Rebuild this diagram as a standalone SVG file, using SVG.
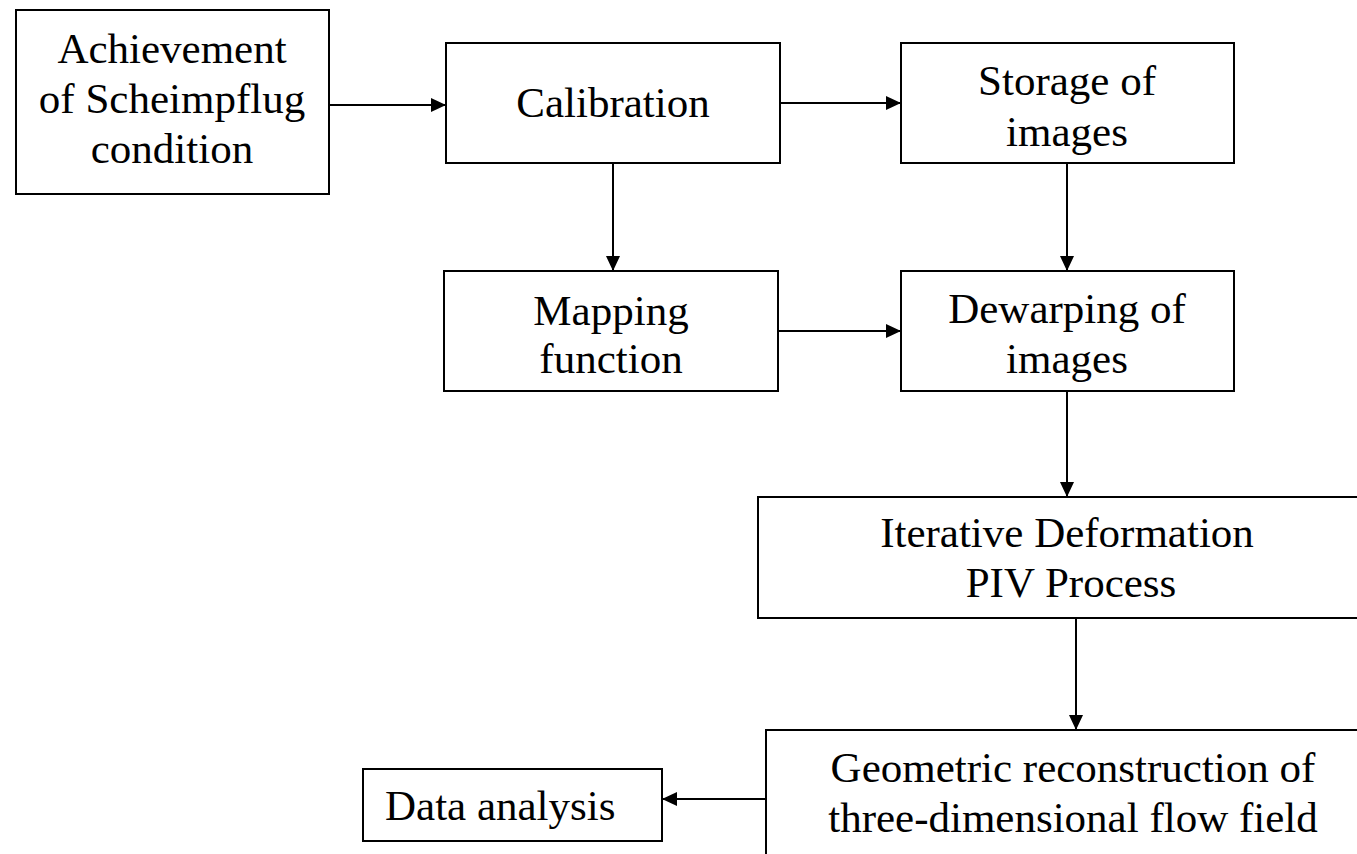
<svg xmlns="http://www.w3.org/2000/svg" width="1357" height="854" viewBox="0 0 1357 854">
<style>
.box{fill:#fff;stroke:#000;stroke-width:2}
text{font-family:'Liberation Serif','Times New Roman','DejaVu Serif',serif;font-size:43px;fill:#000;text-anchor:middle}
.c{stroke:#000;stroke-width:2;fill:none;marker-end:url(#ah)}
</style>
<defs>
<marker id="ah" markerUnits="userSpaceOnUse" markerWidth="16" markerHeight="14" refX="15" refY="7" orient="auto">
<path d="M0,0 L15,7 L0,14 Z" fill="#000"/>
</marker>
</defs>
<rect width="1357" height="854" fill="#fff"/>
<g id="connectors">
<line class="c" x1="329" y1="105" x2="446" y2="105"/>
<line class="c" x1="780" y1="103" x2="901" y2="103"/>
<line class="c" x1="613" y1="163" x2="613" y2="271"/>
<line class="c" x1="1067" y1="163" x2="1067" y2="271"/>
<line class="c" x1="778" y1="331" x2="901" y2="331"/>
<line class="c" x1="1067" y1="391" x2="1067" y2="497"/>
<line class="c" x1="1076" y1="618" x2="1076" y2="730"/>
<line class="c" x1="766" y1="799" x2="662" y2="799"/>
</g>
<g id="achievement">
<rect class="box" x="16" y="10" width="313" height="184"/>
<text x="172" y="63" font-family="Liberation Serif, serif">Achievement</text>
<text x="172" y="113" font-family="Liberation Serif, serif">of Scheimpflug</text>
<text x="172" y="163" font-family="Liberation Serif, serif">condition</text>
</g>
<g id="calibration">
<rect class="box" x="446" y="43" width="334" height="120"/>
<text x="613" y="117" font-family="Liberation Serif, serif">Calibration</text>
</g>
<g id="storage">
<rect class="box" x="901" y="43" width="333" height="120"/>
<text x="1067" y="95" font-family="Liberation Serif, serif">Storage of</text>
<text x="1067" y="146" font-family="Liberation Serif, serif">images</text>
</g>
<g id="mapping">
<rect class="box" x="444" y="271" width="334" height="120"/>
<text x="611" y="325" font-family="Liberation Serif, serif">Mapping</text>
<text x="611" y="373" font-family="Liberation Serif, serif">function</text>
</g>
<g id="dewarping">
<rect class="box" x="901" y="271" width="333" height="120"/>
<text x="1067" y="323" font-family="Liberation Serif, serif">Dewarping of</text>
<text x="1067" y="373" font-family="Liberation Serif, serif">images</text>
</g>
<g id="iterative">
<rect class="box" x="758" y="497" width="640" height="121"/>
<text x="1067" y="547" font-family="Liberation Serif, serif">Iterative Deformation</text>
<text x="1071" y="597" font-family="Liberation Serif, serif">PIV Process</text>
</g>
<g id="geometric">
<rect class="box" x="766" y="730" width="640" height="160"/>
<text x="1073" y="782" font-family="Liberation Serif, serif">Geometric reconstruction of</text>
<text x="1073" y="832" font-family="Liberation Serif, serif">three-dimensional flow field</text>
</g>
<g id="data">
<rect class="box" x="363" y="769" width="299" height="72"/>
<text x="385" y="820" font-family="Liberation Serif, serif" style="text-anchor:start">Data analysis</text>
</g>
</svg>
